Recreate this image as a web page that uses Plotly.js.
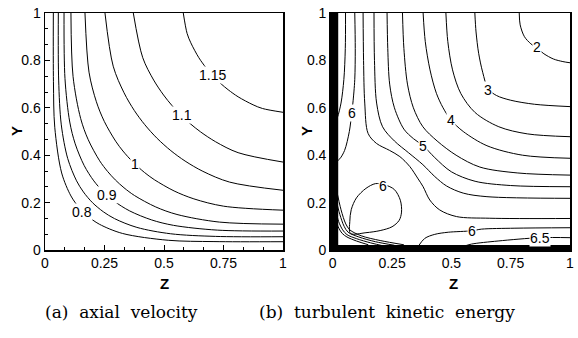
<!DOCTYPE html>
<html><head><meta charset="utf-8">
<script src="https://cdn.plot.ly/plotly-3.0.1.min.js"></script>
<style>html,body{margin:0;padding:0;background:#fff}#chart{width:578px;height:338px}</style>
</head><body><div id="chart"></div>
<script>
// ---------- (a) axial velocity: contour lines (Z, Y) ----------
const u080Z = [0.035,0.0355,0.041,0.07,0.109,0.142,0.16,0.18,0.228,0.325,0.518,0.71,1];
const u080Y = [1,0.71,0.518,0.325,0.228,0.18,0.16,0.142,0.109,0.07,0.041,0.0355,0.035];
const u085Z = [0.056,0.0574,0.0685,0.0954,0.1325,0.1614,0.1996,0.245,0.292,0.386,0.528,0.717,1];
const u085Y = [1,0.717,0.528,0.386,0.292,0.245,0.1996,0.1614,0.1325,0.0954,0.0685,0.0574,0.056];
const u090Z = [0.08,0.0839,0.104,0.1269,0.1648,0.2052,0.2453,0.2916,0.356,0.448,0.54,0.724,1];
const u090Y = [1,0.724,0.54,0.448,0.356,0.2916,0.2453,0.2052,0.1648,0.1269,0.104,0.0839,0.08];
const u095Z = [0.109,0.1178,0.1499,0.1816,0.2297,0.2627,0.2956,0.3318,0.3763,0.4654,0.5545,0.7327,1];
const u095Y = [1,0.7327,0.5545,0.4654,0.3763,0.3318,0.2956,0.2627,0.2297,0.1816,0.1499,0.1178,0.109];
const u100Z = [0.168,0.1849,0.2158,0.2492,0.2968,0.3275,0.3702,0.4176,0.4592,0.5424,0.6256,0.7504,1];
const u100Y = [1,0.7504,0.6256,0.5424,0.4592,0.4176,0.3702,0.3275,0.2968,0.2492,0.2158,0.1849,0.168];
const u105Z = [0.252,0.2865,0.332,0.3753,0.4191,0.4711,0.5288,0.5886,0.6634,0.7756,1];
const u105Y = [1,0.7756,0.6634,0.5886,0.5288,0.4711,0.4191,0.3753,0.332,0.2865,0.252];
const u110Z = [0.371,0.4107,0.4566,0.4981,0.5332,0.5702,0.61,0.654,0.717,0.8113,1];
const u110Y = [1,0.8113,0.717,0.654,0.61,0.5702,0.5332,0.4981,0.4566,0.4107,0.371];
const u115Z = [0.581,0.597,0.6126,0.6464,0.6761,0.7007,0.72,0.7402,0.7696,0.8114,0.8743,0.914,1];
const u115Y = [1,0.914,0.8743,0.8114,0.7696,0.7402,0.72,0.7007,0.6761,0.6464,0.6126,0.597,0.581];
const uLabels = ['0.8','0.9','1','1.1','1.15'];
const uLabelZ = [0.154,0.259,0.378,0.574,0.703];
const uLabelY = [0.162,0.232,0.362,0.570,0.738];

// ---------- (b) turbulent kinetic energy: contour lines ----------
const k2Z = [0.786,0.79,0.808,0.835,0.86,0.89,0.93,0.97,1];
const k2Y = [1,0.95,0.90,0.87,0.852,0.828,0.806,0.795,0.79];
const k3Z = [0.599,0.604,0.615,0.632,0.655,0.69,0.75,0.85,1];
const k3Y = [1,0.92,0.83,0.75,0.68,0.652,0.632,0.615,0.605];
const k35Z = [0.477,0.485,0.505,0.54,0.6,0.7,0.82,1];
const k35Y = [1,0.88,0.76,0.66,0.58,0.52,0.49,0.478];
const k4Z = [0.381,0.39,0.41,0.437,0.465,0.498,0.55,0.65,0.8,1];
const k4Y = [1,0.88,0.76,0.661,0.6,0.549,0.5,0.44,0.4,0.387];
const k45Z = [0.294,0.3,0.315,0.34,0.38,0.44,0.52,0.62,0.78,1];
const k45Y = [1,0.85,0.7,0.6,0.52,0.46,0.4,0.35,0.325,0.316];
const k5Z = [0.229,0.232,0.24,0.26,0.3,0.34,0.382,0.43,0.5,0.6,0.75,1];
const k5Y = [1,0.85,0.7,0.6,0.51,0.47,0.439,0.39,0.33,0.29,0.272,0.267];
const k55Z = [0.174,0.176,0.185,0.21,0.26,0.32,0.38,0.43,0.48,0.55,0.65,1];
const k55Y = [1,0.8,0.62,0.52,0.46,0.41,0.36,0.31,0.27,0.24,0.225,0.218];
const k575Z = [0.128,0.13,0.135,0.149,0.184,0.24,0.283,0.325,0.36,0.381,0.409,0.451,0.522,0.662,1];
const k575Y = [1,0.8,0.62,0.492,0.45,0.42,0.394,0.352,0.3,0.267,0.211,0.169,0.141,0.134,0.133];
const k6aZ = [0.093,0.095,0.093,0.085,0.08,0.07,0.05,0.03,0.012];
const k6aY = [1,0.85,0.72,0.62,0.577,0.5,0.42,0.385,0.37];
const k65aZ = [0.054,0.053,0.047,0.035,0.02,0.01];
const k65aY = [1,0.85,0.72,0.62,0.56,0.54];
const k6bZ = [0.075,0.072,0.078,0.1,0.14,0.18,0.22,0.26,0.285,0.29,0.28,0.25,0.2,0.14,0.075];
const k6bY = [0.07,0.12,0.17,0.22,0.26,0.28,0.275,0.255,0.21,0.16,0.125,0.098,0.082,0.073,0.07];
const k6cZ = [0.36,0.388,0.43,0.487,0.586,0.627,0.768,1];
const k6cY = [0.015,0.049,0.066,0.075,0.081,0.088,0.092,0.094];
const k65bZ = [0.55,0.585,0.697,0.874,1];
const k65bY = [0.015,0.025,0.038,0.052,0.052];
const kVaZ = [0.015,0.035,0.055,0.072,0.12,0.2,0.3];
const kVaY = [0.26,0.17,0.11,0.085,0.06,0.04,0.022];
const kVbZ = [0.012,0.03,0.048,0.065,0.11,0.18,0.26];
const kVbY = [0.22,0.15,0.10,0.075,0.055,0.035,0.02];
const kVcZ = [0.01,0.025,0.042,0.06,0.1,0.16,0.22];
const kVcY = [0.18,0.12,0.085,0.065,0.048,0.03,0.016];
const kVdZ = [0.01,0.022,0.04,0.06,0.1,0.15];
const kVdY = [0.14,0.10,0.07,0.055,0.038,0.022];
const wallLeftZ = [0,0], wallLeftY = [0,1];
const wallBottomZ = [0,1], wallBottomY = [0,0];
const kLabels = ['2','3','4','5','6','6','6','6.5'];
const kLabelZ = [0.86,0.656,0.498,0.382,0.080,0.21,0.586,0.874];
const kLabelY = [0.858,0.675,0.549,0.439,0.577,0.272,0.080,0.052];

const xTickVals = [0,0.25,0.5,0.75,1];
const xTickText = ['0','0.25','0.5','0.75','1'];
const yTickVals = [0,0.2,0.4,0.6,0.8,1];
const yTickText = ['0','0.2','0.4','0.6','0.8','1'];
const captions = ['(a)\u00a0\u00a0axial\u00a0\u00a0velocity','(b)\u00a0\u00a0turbulent\u00a0\u00a0kinetic\u00a0\u00a0energy'];

const FONT = 'Arial, "Liberation Sans", sans-serif';
const SERIF = '"DejaVu Serif", "Liberation Serif", serif';
function line(x, y, xa, ya, w) {
  return {type:'scatter', mode:'lines', x:x, y:y, xaxis:xa, yaxis:ya,
    line:{color:'#000', width:w||1, shape:'spline', smoothing:0.9},
    hoverinfo:'skip', showlegend:false};
}
const traces = [
  line(u080Z,u080Y,'x','y'), line(u085Z,u085Y,'x','y'), line(u090Z,u090Y,'x','y'),
  line(u095Z,u095Y,'x','y'), line(u100Z,u100Y,'x','y'), line(u105Z,u105Y,'x','y'),
  line(u110Z,u110Y,'x','y'), line(u115Z,u115Y,'x','y'),
  line(k2Z,k2Y,'x2','y2'), line(k3Z,k3Y,'x2','y2'), line(k35Z,k35Y,'x2','y2'),
  line(k4Z,k4Y,'x2','y2'), line(k45Z,k45Y,'x2','y2'), line(k5Z,k5Y,'x2','y2'),
  line(k55Z,k55Y,'x2','y2'), line(k575Z,k575Y,'x2','y2'), line(k6aZ,k6aY,'x2','y2'),
  line(k65aZ,k65aY,'x2','y2'), line(k6bZ,k6bY,'x2','y2'), line(k6cZ,k6cY,'x2','y2'),
  line(k65bZ,k65bY,'x2','y2'), line(kVaZ,kVaY,'x2','y2'), line(kVbZ,kVbY,'x2','y2'),
  line(kVcZ,kVcY,'x2','y2'), line(kVdZ,kVdY,'x2','y2'),
  line(wallLeftZ,wallLeftY,'x2','y2',11), line(wallBottomZ,wallBottomY,'x2','y2',10)
];

const ann = [];
uLabels.forEach((t,i)=>ann.push({x:uLabelZ[i], y:uLabelY[i], xref:'x', yref:'y', text:t, showarrow:false,
  xanchor:'center', yanchor:'middle', font:{family:FONT,size:14,color:'#000'}, bgcolor:'#fff', borderpad:0}));
kLabels.forEach((t,i)=>ann.push({x:kLabelZ[i], y:kLabelY[i], xref:'x2', yref:'y2', text:t, showarrow:false,
  xanchor:'center', yanchor:'middle', font:{family:FONT,size:14,color:'#000'}, bgcolor:'#fff', borderpad:0}));
// axis titles
[164/578, 453/578].forEach(px=>ann.push({x:px, y:1-283/338, xref:'paper', yref:'paper', text:'<b>Z</b>',
  xanchor:'center', yanchor:'middle', showarrow:false, font:{family:FONT,size:15,color:'#000'}}));
[16/578, 306/578].forEach(px=>ann.push({x:px, y:1-131/338, xref:'paper', yref:'paper', text:'<b>Y</b>', textangle:-90,
  xanchor:'center', yanchor:'middle', showarrow:false, font:{family:FONT,size:15,color:'#000'}}));
// captions
ann.push({x:121/578, y:1-312/338, xref:'paper', yref:'paper', text:captions[0], showarrow:false,
  xanchor:'center', yanchor:'middle', font:{family:SERIF, size:17, color:'#000'}});
ann.push({x:386.5/578, y:1-312/338, xref:'paper', yref:'paper', text:captions[1], showarrow:false,
  xanchor:'center', yanchor:'middle', font:{family:SERIF, size:17, color:'#000'}});

const yDom = [1-250/338, 1-13/338];
function xaxis(dom, range) {
  return {domain:dom, range:range, tickvals:xTickVals, ticktext:xTickText, ticks:'inside', ticklen:5,
    tickcolor:'#000', showline:true, mirror:true, linecolor:'#000', linewidth:1.5, showgrid:false, zeroline:false,
    tickfont:{family:FONT,size:14,color:'#000'},
    minor:{dtick:0.25/3, tick0:0, ticks:'inside', ticklen:3, tickcolor:'#000', showgrid:false}};
}
function yaxis(anchor, range) {
  return {domain:yDom, range:range, anchor:anchor, tickvals:yTickVals, ticktext:yTickText, ticks:'inside', ticklen:5,
    tickcolor:'#000', showline:true, mirror:true, linecolor:'#000', linewidth:1.5, showgrid:false, zeroline:false,
    tickfont:{family:FONT,size:14,color:'#000'},
    minor:{dtick:0.2/3, tick0:0, ticks:'inside', ticklen:3, tickcolor:'#000', showgrid:false}};
}
const layout = {
  width:578, height:338, margin:{l:0,r:0,t:0,b:0}, paper_bgcolor:'#fff', plot_bgcolor:'#fff',
  showlegend:false,
  xaxis: Object.assign(xaxis([45/578, 283/578],[0,1]), {anchor:'y'}),
  yaxis: yaxis('x',[0,1]),
  xaxis2: Object.assign(xaxis([330.7/578, 570/578],[-0.0085,1]), {anchor:'y2'}),
  yaxis2: yaxis('x2',[0,1]),
  annotations: ann
};
Plotly.newPlot('chart', traces, layout, {staticPlot:true, displayModeBar:false});
</script></body></html>
